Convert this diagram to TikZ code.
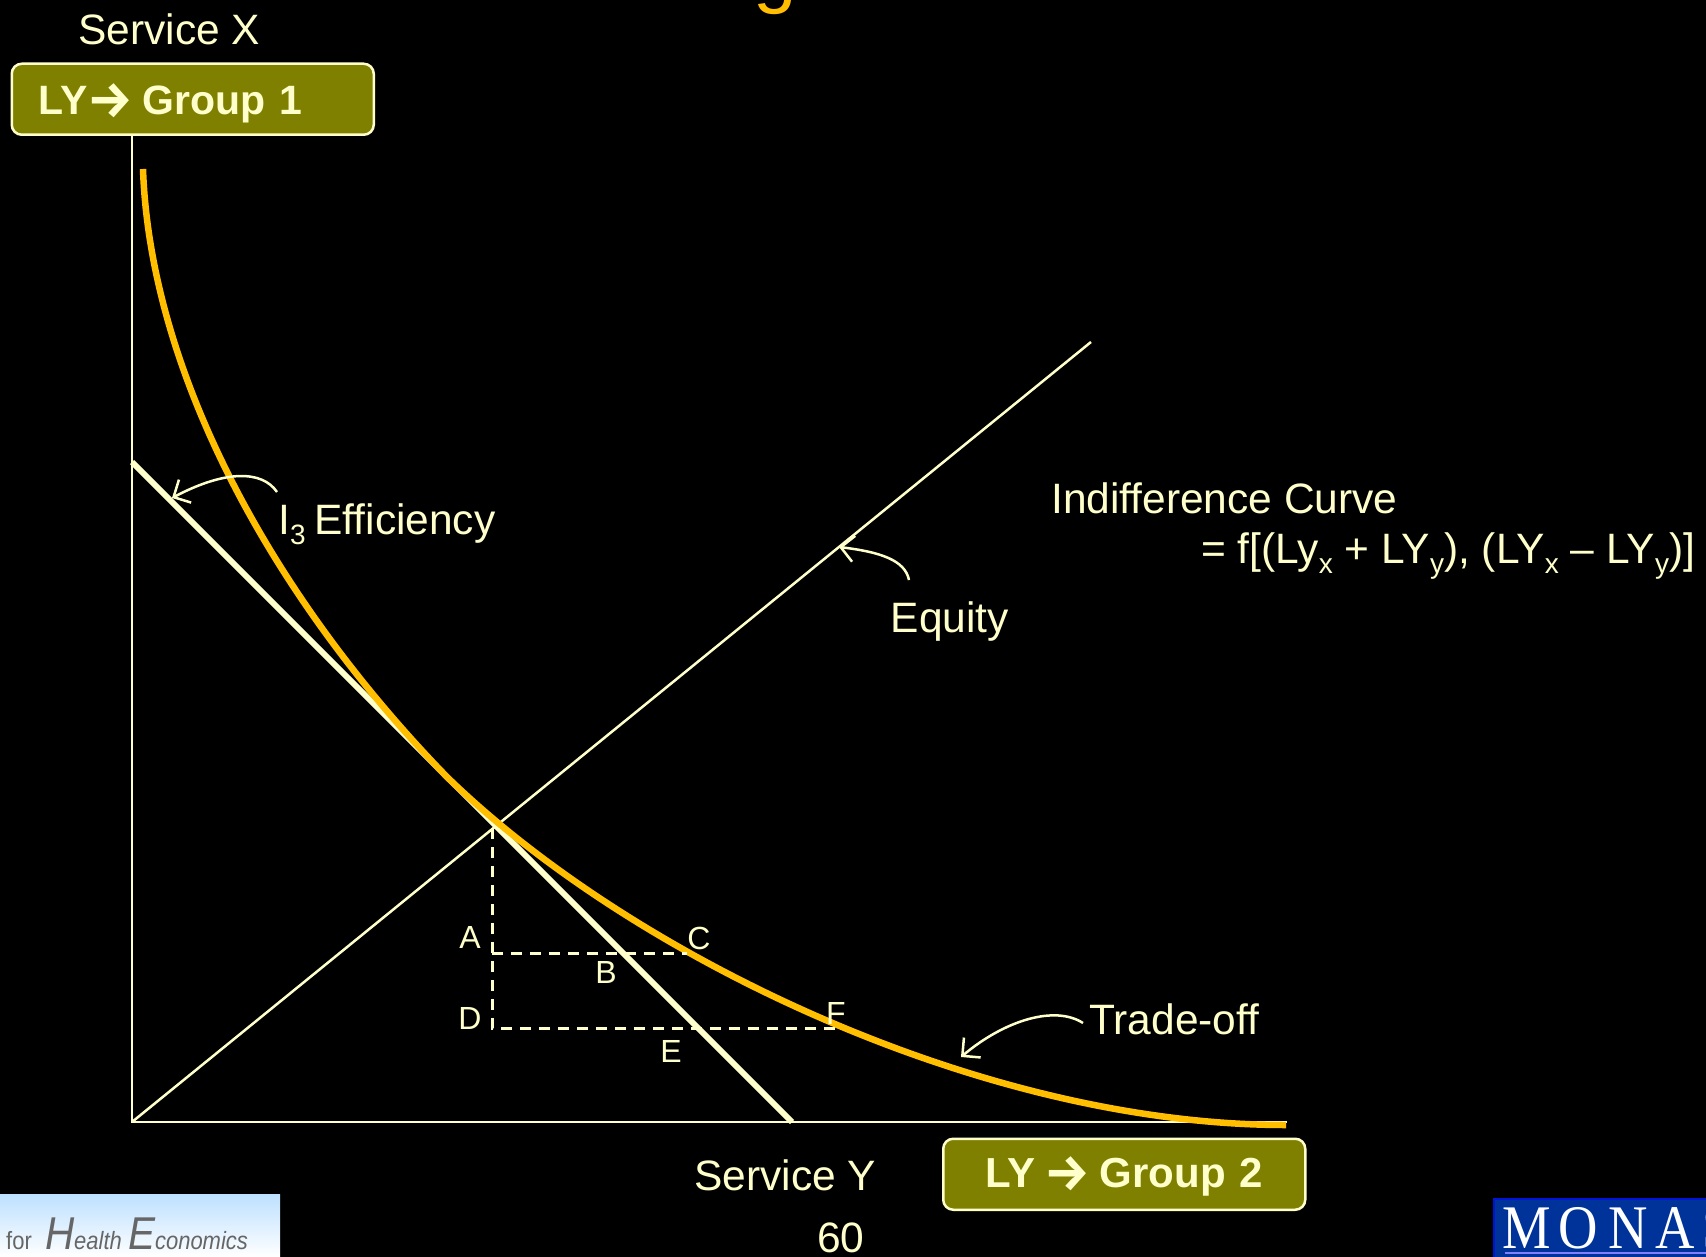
\documentclass[tikz,border=0pt]{standalone}
\usepackage{fontspec}
\setmainfont{Liberation Sans}
\newfontfamily\arrowfont{Fira Sans}
\newfontfamily\serifmark{Liberation Serif}
\usetikzlibrary{arrows.meta}
\definecolor{cream}{HTML}{FFFFCC}
\definecolor{curveamber}{HTML}{FFBF00}
\definecolor{boxolive}{HTML}{808000}
\definecolor{logoblue}{HTML}{003399}
\definecolor{logosky}{HTML}{BDE0FF}
\newcommand{\sizept}[1]{\fontsize{#1}{#1}\selectfont}
\newcommand{\subtext}[1]{\raisebox{-10pt}{\sizept{28}#1}}
\newcommand{\boxarrow}{\raisebox{-3pt}{\arrowfont\bfseries\sizept{51}→}\hspace{-4pt}}
\tikzset{
  bigtext/.style={text=cream,inner sep=0,anchor=base west,font=\sizept{42.5}},
  pointtext/.style={text=cream,inner sep=0,font=\sizept{32}},
  groupbox/.style={draw=cream,line width=2.5,fill=boxolive,rounded corners=10,text=cream,
    anchor=north west,minimum height=71,inner ysep=0},
  thinline/.style={cream,line width=2.5},
  dashline/.style={cream,line width=3,dash pattern=on 11pt off 8pt},
  callout/.style={cream,line width=2.5,-{Straight Barb[length=13pt,width=26pt]}},
  markletter/.style={text=white,inner sep=0,anchor=base,xscale=.88,font=\serifmark\sizept{62}}
}
\begin{document}
\begin{tikzpicture}[x=1pt,y=-1pt]
\clip (0,0) rectangle (1706,1257);
\fill[black] (0,0) rectangle (1706,1257);
\node[inner sep=0,anchor=base,text=curveamber,font=\sizept{78}] (titleg) at (775,-1) {g};
\node[bigtext] (servx) at (78,45) {Service X};
\node[groupbox,font=\sizept{41}\bfseries,minimum width=362,text width=308,inner xsep=27,text height=31,text depth=0,align=left] (groupone) at (10.5,62.5)
  {LY\boxarrow{} Group 1};
\node[groupbox,font=\sizept{42}\bfseries,minimum width=362,text width=320,inner xsep=21,text height=30,text depth=4,align=center] (grouptwo) at (942,1137.5)
  {LY\hspace{-5pt} \boxarrow{} Group 2};
\node[bigtext] (servy) at (694,1190) {Service Y};
\node[bigtext] (pagenum) at (817,1252) {60};
\node[bigtext] (indiff) at (1051,513) {Indifference Curve};
\node[bigtext] (formula) at (1201,563) {= f[(Ly\subtext{x} + LY\subtext{y}), (LY\subtext{x} – LY\subtext{y})]};
\node[bigtext] (ithree) at (278,534) {I\subtext{3}\hspace{-3pt} Efficiency};
\node[bigtext] (equity) at (890.5,632) {Equity};
\node[bigtext] (tradeoff) at (1089,1034) {Trade-off};

\coordinate (origin) at (132,1122);
\coordinate (xend) at (1287,1122);
\coordinate (eqend) at (1091,342);
\coordinate (lineS) at (132,462);
\coordinate (lineE) at (792,1122);
\coordinate (peak) at (492,828);
\coordinate (ptA) at (492,953);
\coordinate (ptC) at (687,953);
\coordinate (ptD) at (492,1028);
\coordinate (ptF) at (837,1028);
\coordinate (tipI) at (172,498);
\coordinate (tipEq) at (839,547);
\coordinate (tipTr) at (961,1057);
\coordinate (fromI) at (277,492);
\coordinate (fromEq) at (909,580);
\coordinate (fromTr) at (1083,1023);
\coordinate (curveS) at (143,169);
\coordinate (curveM) at (447,777);
\coordinate (curveE) at (1286,1125);

\draw[thinline] (origin |- groupone.south) -- (origin) -- (xend);
\draw[thinline] (origin) -- (eqend);
\draw[cream,line width=6] (lineS) -- (lineE);
\draw[curveamber,line width=6.5] (curveS) .. controls (150,370) and (270,595) .. (curveM)
  .. controls (630,955) and (980,1125) .. (curveE);
\draw[dashline] (peak) -- (ptD) -- (ptF);
\draw[dashline] (ptA) -- (ptC);
\draw[callout] (fromI) .. controls (262,470) and (225,470) .. (tipI);
\draw[callout] (fromEq) .. controls (905,560) and (880,552) .. (tipEq);
\draw[callout] (fromTr) .. controls (1055,1005) and (1005,1020) .. (tipTr);

\node[pointtext] (labA) at (470,937) {A};
\node[pointtext] (labB) at (606,972) {B};
\node[pointtext] (labC) at (699,938) {C};
\node[pointtext] (labD) at (470,1018) {D};
\node[pointtext] (labE) at (671,1051) {E};
\node[pointtext] (labF) at (836,1013) {F};

\shade[top color=logosky,bottom color=white] (0,1194) rectangle (280,1257);
\node[inner sep=0,anchor=base west,text=black!60,xscale=.88,font=\sizept{25}] (healthlogo) at (6,1249)
  {for\hspace{8pt} {\itshape\sizept{46}H}{\itshape ealth} {\itshape\sizept{46}E}{\itshape conomics}};
\fill[logoblue,draw=blue!60!logoblue,line width=2] (1494,1199) rectangle (1710,1260);
\foreach \ltr/\xpos in {M/1527,O/1578,N/1628,A/1675,S/1718}
  \node[markletter] (mark\ltr) at (\xpos,1248) {\ltr};
\draw[blue!50!white,line width=1.5] (1505,1253) -- (1706,1253);
\end{tikzpicture}
\end{document}
